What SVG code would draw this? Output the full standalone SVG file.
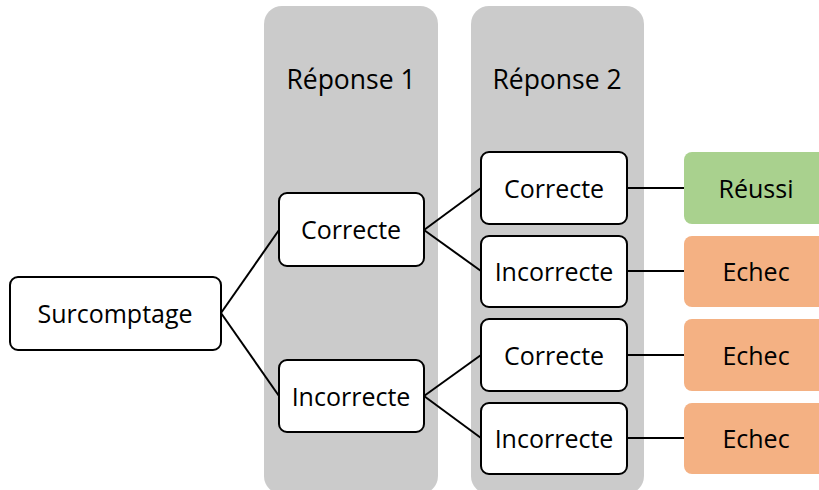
<svg xmlns="http://www.w3.org/2000/svg" width="819" height="490" viewBox="0 0 819 490">
<style>
.col{fill:#CBCBCB;}
.box{fill:#FFFFFF;stroke:#000000;stroke-width:2;}
.ok{fill:#A9D18E;}
.ko{fill:#F4B183;}
text{font-family:"Open Sans","Noto Sans",sans-serif;font-size:25px;fill:#000000;text-anchor:middle;dominant-baseline:central;}
.hdr{font-size:26.5px;}
.conn line{stroke:#000000;stroke-width:2;}
</style>
<rect width="819" height="490" fill="#FFFFFF"/>
<g id="col1"><rect class="col" x="264" y="6" width="174" height="488" rx="18"/><text class="hdr" x="351" y="79">Réponse 1</text></g>
<g id="col2"><rect class="col" x="471" y="6" width="173" height="488" rx="18"/><text class="hdr" x="557" y="79">Réponse 2</text></g>
<g class="conn" id="connectors">
<line x1="221" y1="313" x2="279" y2="230"/>
<line x1="221" y1="313" x2="279" y2="396"/>
<line x1="424" y1="230" x2="481" y2="188"/>
<line x1="424" y1="230" x2="481" y2="271"/>
<line x1="424" y1="396" x2="481" y2="355"/>
<line x1="424" y1="396" x2="481" y2="438"/>
<line x1="627" y1="188" x2="684" y2="188"/>
<line x1="627" y1="271" x2="684" y2="271"/>
<line x1="627" y1="355" x2="684" y2="355"/>
<line x1="627" y1="438" x2="684" y2="438"/>
</g>
<g id="surcomptage"><rect class="box" x="10" y="277" width="211" height="73" rx="8"/><text x="115" y="313">Surcomptage</text></g>
<g id="r1-correcte"><rect class="box" x="279" y="193" width="145" height="73" rx="8"/><text x="351" y="229">Correcte</text></g>
<g id="r1-incorrecte"><rect class="box" x="279" y="360" width="145" height="72" rx="8"/><text x="351" y="396">Incorrecte</text></g>
<g id="r2-correcte-a"><rect class="box" x="481" y="152" width="146" height="72" rx="8"/><text x="554" y="188">Correcte</text></g>
<g id="r2-incorrecte-a"><rect class="box" x="481" y="236" width="146" height="71" rx="8"/><text x="554" y="271">Incorrecte</text></g>
<g id="r2-correcte-b"><rect class="box" x="481" y="319" width="146" height="72" rx="8"/><text x="554" y="355">Correcte</text></g>
<g id="r2-incorrecte-b"><rect class="box" x="481" y="403" width="146" height="71" rx="8"/><text x="554" y="438">Incorrecte</text></g>
<g id="reussi"><rect class="ok" x="684" y="152" width="150" height="72" rx="8"/><text x="756" y="188">Réussi</text></g>
<g id="echec1"><rect class="ko" x="684" y="236" width="150" height="71" rx="8"/><text x="756" y="271">Echec</text></g>
<g id="echec2"><rect class="ko" x="684" y="319" width="150" height="72" rx="8"/><text x="756" y="355">Echec</text></g>
<g id="echec3"><rect class="ko" x="684" y="403" width="150" height="71" rx="8"/><text x="756" y="438">Echec</text></g>
</svg>
